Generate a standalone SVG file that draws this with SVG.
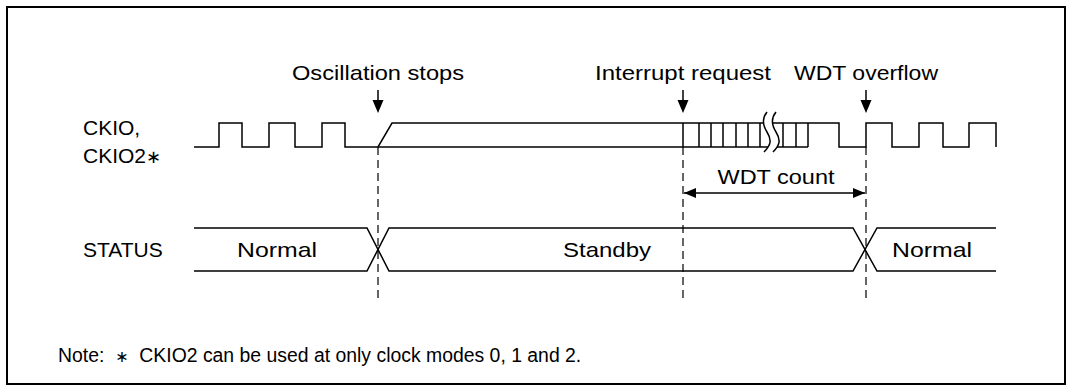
<svg xmlns="http://www.w3.org/2000/svg" width="1073" height="390" viewBox="0 0 1073 390">
<defs>
<style>
.t{font-family:"Liberation Sans",Arial,"DejaVu Sans",sans-serif;font-size:21px;fill:#000}
.n{font-size:19.4px}
.m{text-anchor:middle}
.w{fill:none;stroke:#000;stroke-width:1.5}
.d{fill:none;stroke:#000;stroke-width:1.2;stroke-dasharray:8 5}
.ah{fill:#000}
</style>
<marker id="arr" viewBox="0 0 12 10" refX="12" refY="5" markerWidth="12" markerHeight="10" markerUnits="userSpaceOnUse" orient="auto-start-reverse">
<path d="M0,0 L12,5 L0,10 Z" fill="#000"/>
</marker>
</defs>
<rect x="0" y="0" width="1073" height="390" fill="#fff"/>
<rect x="7" y="7" width="1058" height="377" fill="none" stroke="#000" stroke-width="2"/>

<g id="labels">
<text class="t m" x="378" y="80" textLength="172" lengthAdjust="spacingAndGlyphs">Oscillation stops</text>
<text class="t m" x="683" y="80" textLength="176" lengthAdjust="spacingAndGlyphs">Interrupt request</text>
<text class="t m" x="866" y="80" textLength="144" lengthAdjust="spacingAndGlyphs">WDT overflow</text>
<text class="t" x="83" y="135">CKIO,</text>
<text class="t" x="83" y="163">CKIO2<tspan font-family="DejaVu Sans" font-size="18">∗</tspan></text>
<text class="t" x="83" y="257">STATUS</text>
</g>

<g id="ckio">
<path class="w" d="M194,147 H219 V123 H242 V147 H269 V123 H295 V147 H322 V123 H345 V147 H378 L392,123 H839 V147 H866 V123 H892 V147 H919 V123 H943 V147 H969 V123 H996 V147"/>
<path class="w" d="M378,147 H808"/>
<path class="w" d="M683,123 V147 M699,123 V147 M711,123 V147 M723,123 V147 M736,123 V147 M748,123 V147 M760,123 V147 M783,123 V147 M796,123 V147 M808,123 V147"/>
<path fill="#fff" stroke="none" d="M767,112 c-5,6 -5,12 0,20 c5,8 4,13 -3,20 h9 c7,-7 8,-12 3,-20 c-5,-8 -5,-14 0,-20 z"/>
<path class="w" d="M767,112 c-5,6 -5,12 0,20 c5,8 4,13 -3,20 M776,112 c-5,6 -5,12 0,20 c5,8 4,13 -3,20"/>
</g>

<g id="status">
<path class="w" d="M194,228 H367 L389,271 H853 L877,228 H996"/>
<path class="w" d="M194,271 H367 L389,228 H853 L877,271 H996"/>
<text class="t m" x="277" y="257" textLength="80" lengthAdjust="spacingAndGlyphs">Normal</text>
<text class="t m" x="607" y="257" textLength="88" lengthAdjust="spacingAndGlyphs">Standby</text>
<text class="t m" x="932" y="257" textLength="80" lengthAdjust="spacingAndGlyphs">Normal</text>
</g>

<g id="connectors">
<line class="w" x1="378" y1="90" x2="378" y2="101"/>
<polygon class="ah" points="378,113 372.5,100 383.5,100"/>
<line class="w" x1="683" y1="90" x2="683" y2="101"/>
<polygon class="ah" points="683,113 677.5,100 688.5,100"/>
<line class="w" x1="866" y1="90" x2="866" y2="101"/>
<polygon class="ah" points="866,113 860.5,100 871.5,100"/>
<line class="d" x1="378" y1="147" x2="378" y2="303"/>
<line class="d" x1="683" y1="147" x2="683" y2="303"/>
<line class="d" x1="866" y1="147" x2="866" y2="303"/>
<line class="w" x1="684" y1="193" x2="865" y2="193" stroke-width="2" marker-start="url(#arr)" marker-end="url(#arr)"/>
</g>

<g id="count">
<text class="t m" x="776" y="184" textLength="117" lengthAdjust="spacingAndGlyphs">WDT count</text>
</g>

<g id="note">
<text class="t n" x="58" y="362" xml:space="preserve">Note:  <tspan font-family="DejaVu Sans" font-size="16">∗</tspan>  CKIO2 can be used at only clock modes 0, 1 and 2.</text>
</g>
</svg>
